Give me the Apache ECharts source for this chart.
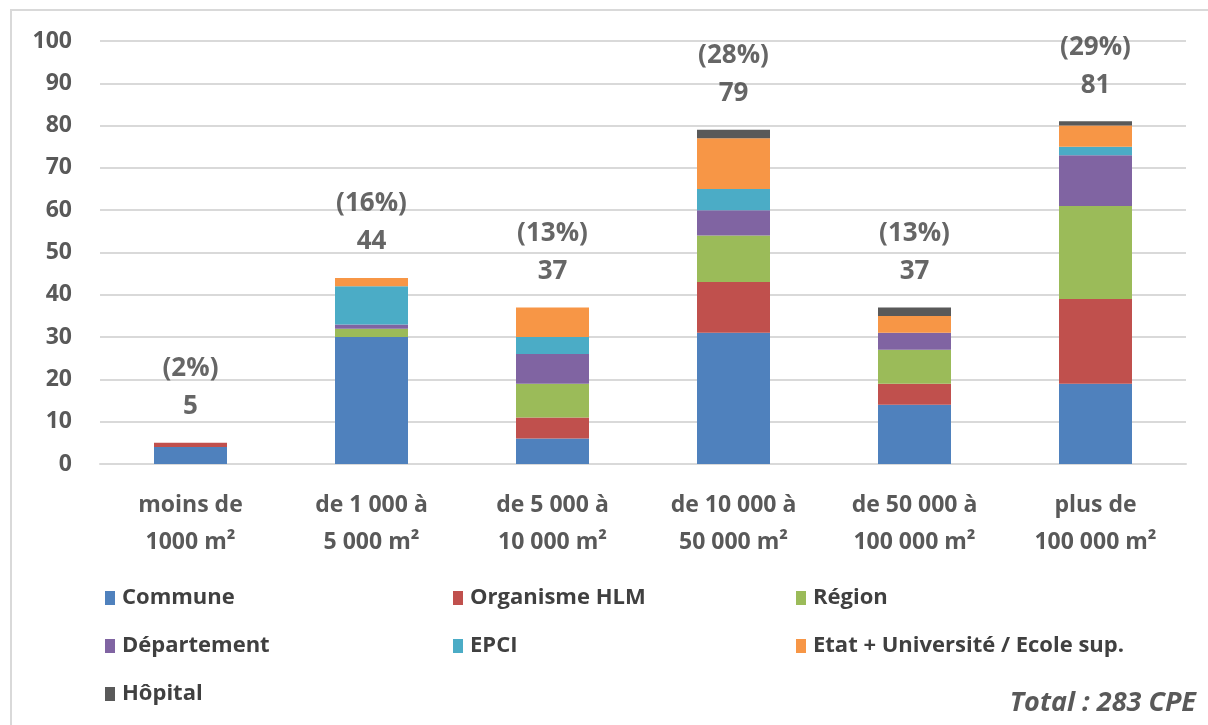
<!DOCTYPE html>
<html>
<head>
<meta charset="utf-8">
<script src="https://cdn.jsdelivr.net/npm/echarts@6/dist/echarts.min.js"></script>
<style>
  html, body { margin: 0; padding: 0; background: #fff; }
  #chart { width: 1208px; height: 725px; }
</style>
</head>
<body>
<div id="chart"></div>
<script>
// Surface categories (building floor area)
const categories = [
  'moins de\n1000 m²',
  'de 1 000 à\n5 000 m²',
  'de 5 000 à\n10 000 m²',
  'de 10 000 à\n50 000 m²',
  'de 50 000 à\n100 000 m²',
  'plus de\n100 000 m²'
];

// Number of CPE contracts per contracting authority, by surface class
const commune     = [4, 30,  6, 31, 14, 19];
const organismeHLM = [1,  0,  5, 12,  5, 20];
const region      = [0,  2,  8, 11,  8, 22];
const departement = [0,  1,  7,  6,  4, 12];
const epci        = [0,  9,  4,  5,  0,  2];
const etatUniv    = [0,  2,  7, 12,  4,  5];
const hopital     = [0,  0,  0,  2,  2,  1];

const yTicks = { min: 0, max: 100, interval: 10 };
const totalLabel = 'Total : 283 CPE';

const seriesDefs = [
  { name: 'Commune', data: commune, color: '#4F81BD' },
  { name: 'Organisme HLM', data: organismeHLM, color: '#C0504D' },
  { name: 'Région', data: region, color: '#9BBB59' },
  { name: 'Département', data: departement, color: '#8064A2' },
  { name: 'EPCI', data: epci, color: '#4BACC6' },
  { name: 'Etat + Université / Ecole sup.', data: etatUniv, color: '#F79646' },
  { name: 'Hôpital', data: hopital, color: '#595959' }
];

// Stack totals and share of the grand total
const totals = categories.map((_, i) => seriesDefs.reduce((s, d) => s + d.data[i], 0));
const grandTotal = totals.reduce((a, b) => a + b, 0);

const FONT = '"Open Sans", "Noto Sans", sans-serif';

// Legend laid out as a 3-column grid
const legendCols = [100, 448, 791];
const legendRows = [582, 630, 678];
const legends = seriesDefs.map((d, i) => ({
  data: [d.name],
  left: legendCols[i % 3],
  top: legendRows[Math.floor(i / 3)],
  itemWidth: 10,
  itemHeight: 14,
  itemGap: 0,
  icon: 'rect',
  selectedMode: false,
  textStyle: { fontFamily: FONT, fontSize: 22, fontWeight: 'bold', color: '#404040', padding: [0, 0, 0, 2] }
}));

const chart = echarts.init(document.getElementById('chart'));
chart.setOption({
  animation: false,
  backgroundColor: '#ffffff',
  grid: { left: 100, right: 22, top: 41, bottom: 261 },
  legend: legends,
  xAxis: {
    type: 'category',
    data: categories,
    axisTick: { show: false },
    axisLine: { lineStyle: { color: '#D9D9D9', width: 2 } },
    axisLabel: {
      interval: 0,
      margin: 23,
      fontFamily: FONT,
      fontSize: 23,
      fontWeight: 'bold',
      color: '#595959',
      lineHeight: 37
    }
  },
  yAxis: {
    type: 'value',
    min: yTicks.min,
    max: yTicks.max,
    interval: yTicks.interval,
    axisLine: { show: false },
    axisTick: { show: false },
    splitLine: { lineStyle: { color: '#D9D9D9', width: 2 } },
    axisLabel: {
      margin: 28,
      fontFamily: FONT,
      fontSize: 23,
      fontWeight: 'bold',
      color: '#595959'
    }
  },
  series: seriesDefs.map(d => ({
    name: d.name,
    type: 'bar',
    stack: 'cpe',
    barWidth: 73,
    data: d.data,
    itemStyle: { color: d.color },
    emphasis: { disabled: true }
  })).concat([{
    name: 'total',
    type: 'scatter',
    data: totals,
    symbolSize: 0,
    silent: true,
    z: 10,
    label: {
      show: true,
      position: 'top',
      distance: 17,
      formatter: p => '(' + Math.round(p.value / grandTotal * 100) + '%)\n' + p.value,
      fontFamily: FONT,
      fontSize: 26,
      fontWeight: 'bold',
      color: '#404040',
      lineHeight: 38,
      align: 'center'
    }
  }]),
  graphic: [
    {
      type: 'rect',
      silent: true,
      shape: { x: 11, y: 10, width: 1400, height: 900 },
      style: { fill: 'none', stroke: '#D9D9D9', lineWidth: 2 },
      z: -1
    },
    {
      type: 'text',
      right: 12,
      top: 690,
      style: {
        text: totalLabel,
        fontFamily: FONT,
        fontSize: 27,
        fontWeight: 'bold',
        fontStyle: 'italic',
        fill: '#595959'
      }
    }
  ]
});
</script>
</body>
</html>
